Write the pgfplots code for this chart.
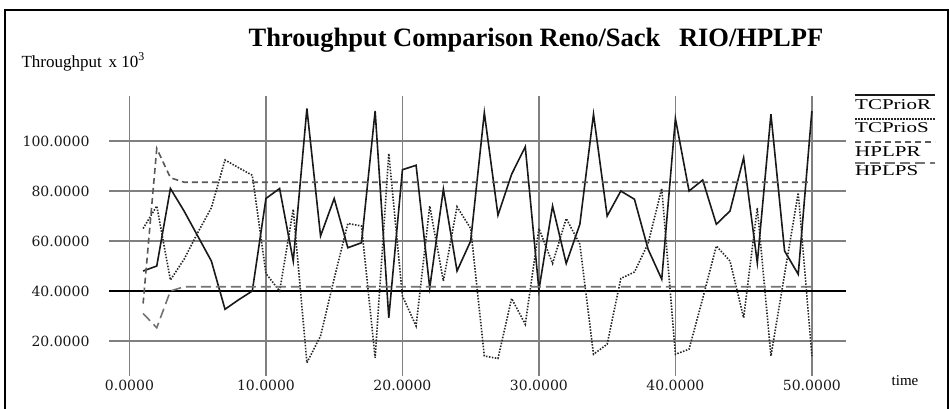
\documentclass[border=0pt]{standalone}
\usepackage{fontspec}
\setmainfont{Liberation Serif}
\newfontfamily\tickfont{DejaVu Serif}
\newfontfamily\widefont[FakeStretch=1.4]{Liberation Serif}
\usepackage{pgfplots}
\usepackage{pgfplotstable}
\pgfplotsset{compat=1.18}

% t, TCPrioR, TCPrioS, HPLPR, HPLPS
\pgfplotstableread{
t  tcpr   tcps  hplpr hplps
1  48     65    35    31
2  50     74    97    25.3
3  81     44.4  85.3  40
4  72     52.7  83.5  41.7
5  62     63.3  83.5  41.7
6  52     73.3  83.5  41.7
7  32.7   92.4  83.5  41.7
8  36.5   89.3  83.5  41.7
9  40     86.3  83.5  41.7
10 77     47    83.5  41.7
11 81     40    83.5  41.7
12 52     72.7  83.5  41.7
13 113    11.3  83.5  41.7
14 62     22    83.5  41.7
15 77     45    83.5  41.7
16 57.3   67    83.5  41.7
17 59.3   66    83.5  41.7
18 112    13.3  83.5  41.7
19 29.3   95    83.5  41.7
20 88.5   38    83.5  41.7
21 90.3   26    83.5  41.7
22 41.3   74    83.5  41.7
23 80.7   44    83.5  41.7
24 48     73.7  83.5  41.7
25 60     65    83.5  41.7
26 111.3  14    83.5  41.7
27 70.3   13    83.5  41.7
28 86.7   37    83.5  41.7
29 97.7   26.7  83.5  41.7
30 40.5   65    83.5  41.7
31 74     51    83.5  41.7
32 51     69    83.5  41.7
33 66.7   58.7  83.5  41.7
34 110.7  14.7  83.5  41.7
35 70     18.7  83.5  41.7
36 80     45    83.5  41.7
37 76.7   47.6  83.5  41.7
38 56.7   59    83.5  41.7
39 44.7   81    83.5  41.7
40 109    14.7  83.5  41.7
41 80     16.7  83.5  41.7
42 84.4   37    83.5  41.7
43 66.7   58    83.5  41.7
44 72     52    83.5  41.7
45 93.3   29.3  83.5  41.7
46 51.3   73.3  83.5  41.7
47 110.7  14    83.5  41.7
48 56     46.7  83.5  41.7
49 46.7   79.3  83.5  41.7
50 112    14    83.5  41.7
}\thrdata

\begin{document}
\begin{tikzpicture}[x=1pt,y=1pt]
\useasboundingbox (0,0) rectangle (950,408);
\draw[line width=2.5pt] (5,-5) -- (5,398) -- (948,398) -- (948,-5);

\begin{axis}[
    at={(109pt,32pt)}, anchor=south west,
    scale only axis,
    width=737pt, height=280pt,
    xmin=-1.5, xmax=52.5,
    ymin=6, ymax=118,
    axis line style={draw=none},
    major tick length=0pt,
    xtick={0,10,...,50},
    ytick={20,40,...,100},
    grid=major,
    major grid style={draw=black!50, line width=1.5pt},
    extra y ticks={40},
    extra y tick labels={},
    extra y tick style={grid=major, major grid style={draw=black, line width=1.5pt}},
    /pgf/number format/.cd, fixed, fixed zerofill, precision=4, assume math mode=true,
    /pgfplots/.cd,
    ticklabel style={font=\tickfont\fontsize{14}{16}\selectfont, text=black!90},
    yticklabel style={xshift=-16pt},
    xticklabel style={yshift=-1pt},
]
\addplot[black!90, line width=1.6pt] table[x=t, y=tcpr] {\thrdata};
\addplot[black!85, line width=1.6pt, dash pattern=on 1.5pt off 1.5pt] table[x=t, y=tcps] {\thrdata};
\addplot[black!65, line width=1.6pt, dash pattern=on 6pt off 4pt] table[x=t, y=hplpr] {\thrdata};
\addplot[black!55, line width=1.6pt, dash pattern=on 10pt off 5pt] table[x=t, y=hplps] {\thrdata};
\end{axis}

\node[font=\fontsize{26.5}{30}\bfseries\selectfont] at (536,368) {Throughput Comparison Reno/Sack\hspace{0.45em} RIO/HPLPF};
\node[anchor=west, font=\fontsize{17}{20}\selectfont] at (18,346) {Throughput\hspace{0.4em}x 10\textsuperscript{3}};
\node[font=\fontsize{15}{17}\selectfont] at (905,27) {time};

% legend
\draw[black!90, line width=1.3pt] (855,313) -- (935,313);
\node[anchor=west, inner sep=0pt, font=\widefont\fontsize{15}{17}\selectfont] at (855,303) {TCPrioR};
\draw[black!85, line width=1.3pt, dash pattern=on 1.5pt off 1.5pt] (855,289) -- (935,289);
\node[anchor=west, inner sep=0pt, font=\widefont\fontsize{15}{17}\selectfont] at (855,280) {TCPrioS};
\draw[black!65, line width=1.3pt, dash pattern=on 6pt off 4pt] (855,266) -- (935,266);
\node[anchor=west, inner sep=0pt, font=\widefont\fontsize{15}{17}\selectfont] at (855,256) {HPLPR};
\draw[black!55, line width=1.3pt, dash pattern=on 10pt off 5pt] (855,245) -- (935,245);
\node[anchor=west, inner sep=0pt, font=\widefont\fontsize{15}{17}\selectfont] at (855,237) {HPLPS};
\end{tikzpicture}
\end{document}
